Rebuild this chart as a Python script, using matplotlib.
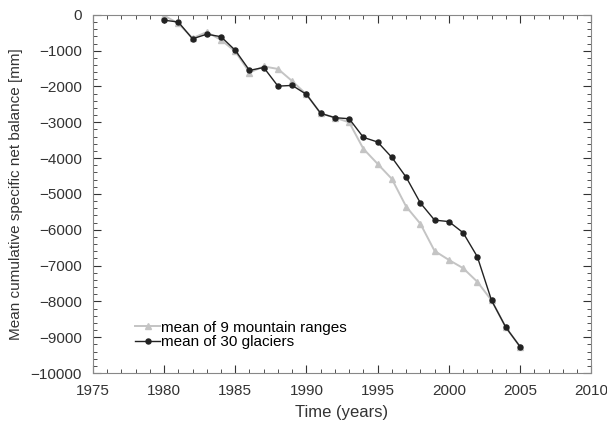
import numpy as np
import matplotlib
matplotlib.use("Agg")
import matplotlib.pyplot as plt
from matplotlib.ticker import MultipleLocator

plt.rcParams["font.family"] = ["Liberation Sans", "DejaVu Sans"]

years = list(range(1980, 2006))
glaciers_30 = [-150, -200, -670, -540, -610, -990, -1550, -1470, -1990, -1970,
               -2220, -2750, -2870, -2900, -3420, -3550, -3980, -4530, -5250, -5730,
               -5770, -6080, -6750, -7970, -8720, -9260]
ranges_9 = [-20, -240, -650, -480, -700, -1020, -1610, -1440, -1510, -1850,
            -2220, -2750, -2870, -3000, -3740, -4160, -4580, -5350, -5830, -6590,
            -6840, -7070, -7450, -7970, -8720, -9260]

fig = plt.figure(figsize=(6.07, 4.24), dpi=100)
ax = fig.add_axes([0.153, 0.12, 0.821, 0.845])

ax.plot(years, ranges_9, color="#c4c4c4", marker="^", markersize=4,
        linewidth=1.4, label="mean of 9 mountain ranges")
ax.plot(years, glaciers_30, color="#222222", marker="o", markersize=3.6,
        linewidth=1.0, label="mean of 30 glaciers")

ax.set_xlim(1975, 2010)
ax.set_ylim(-10000, 0)
ax.xaxis.set_major_locator(MultipleLocator(5))
ax.xaxis.set_minor_locator(MultipleLocator(1))
ax.yaxis.set_major_locator(MultipleLocator(1000))
ax.yaxis.set_minor_locator(MultipleLocator(200))
ax.tick_params(which="both", direction="in", top=True, right=True,
               labelsize=11, colors="#333333", labelcolor="#333333")
ax.tick_params(which="major", length=6, pad=8)
ax.tick_params(which="minor", length=3)
for s in ax.spines.values():
    s.set_color("#888888")

ax.set_xlabel("Time (years)", fontsize=12, color="#333333", labelpad=5)
ax.set_ylabel("Mean cumulative specific net balance [mm]", fontsize=11,
              color="#333333", labelpad=5)

ax.legend(loc="lower left", bbox_to_anchor=(0.07, 0.045), frameon=False,
          fontsize=11, handlelength=1.6, handletextpad=0.1, borderpad=0,
          labelspacing=0.05)

fig.savefig("out.png", dpi=100)
